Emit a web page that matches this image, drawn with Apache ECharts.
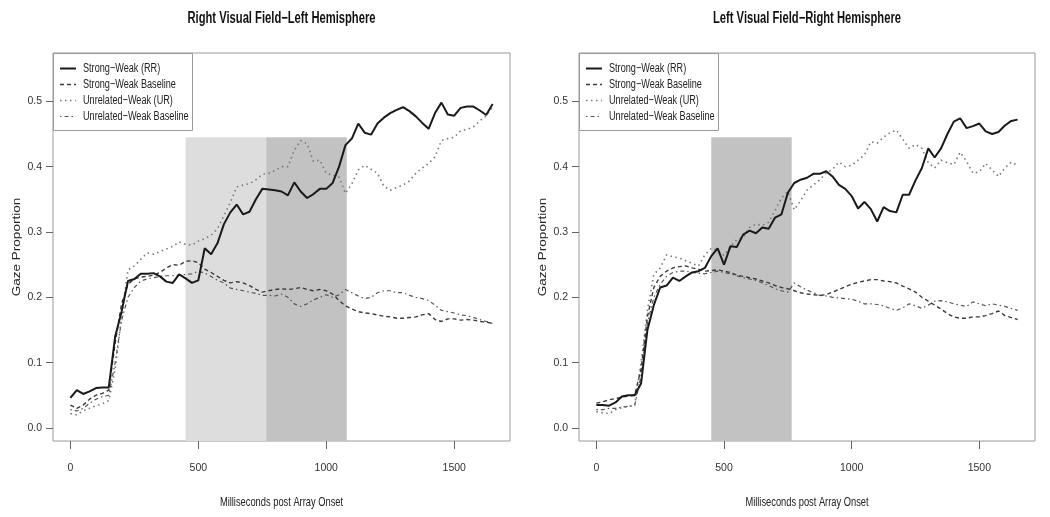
<!DOCTYPE html>
<html>
<head>
<meta charset="utf-8">
<script src="https://cdn.jsdelivr.net/npm/echarts@6/dist/echarts.min.js"></script>
<style>
html,body{margin:0;padding:0;background:#fff;}
#chart{width:1050px;height:517px;}
</style>
</head>
<body>
<div id="chart"></div>
<script>
// ---- data ----
const times = [0,25,50,75,100,125,150,175,200,225,250,275,300,325,350,375,400,425,450,475,500,525,550,575,600,625,650,675,700,725,750,775,800,825,850,875,900,925,950,975,1000,1025,1050,1075,1100,1125,1150,1175,1200,1225,1250,1275,1300,1325,1350,1375,1400,1425,1450,1475,1500,1525,1550,1575,1600,1625,1650];

const seriesNames = ["Strong\u2212Weak (RR)", "Strong\u2212Weak Baseline", "Unrelated\u2212Weak (UR)", "Unrelated\u2212Weak Baseline"];
const panelTitles = ["Right Visual Field\u2212Left Hemisphere", "Left Visual Field\u2212Right Hemisphere"];
const xTicks = [0, 500, 1000, 1500];
const yTicks = [0, 0.1, 0.2, 0.3, 0.4, 0.5];
const xAxisTitle = "Milliseconds post Array Onset";
const yAxisTitle = "Gaze Proportion";

// Right visual field - left hemisphere
const leftRR = [0.046,0.058,0.052,0.056,0.061,0.062,0.062,0.14,0.178,0.225,0.228,0.236,0.236,0.237,0.232,0.224,0.222,0.235,0.229,0.222,0.226,0.275,0.266,0.283,0.312,0.33,0.342,0.327,0.331,0.35,0.366,0.365,0.364,0.362,0.356,0.376,0.362,0.352,0.358,0.366,0.366,0.375,0.40,0.433,0.443,0.466,0.452,0.449,0.466,0.475,0.482,0.487,0.491,0.485,0.477,0.467,0.458,0.482,0.498,0.48,0.478,0.49,0.492,0.492,0.486,0.479,0.496];
const leftSWB = [0.035,0.03,0.035,0.044,0.05,0.053,0.058,0.13,0.19,0.22,0.228,0.231,0.232,0.234,0.238,0.245,0.25,0.249,0.255,0.256,0.253,0.243,0.238,0.232,0.226,0.222,0.224,0.222,0.218,0.212,0.208,0.21,0.212,0.213,0.212,0.213,0.215,0.212,0.21,0.212,0.21,0.205,0.195,0.187,0.182,0.178,0.176,0.175,0.173,0.171,0.17,0.168,0.168,0.169,0.17,0.173,0.175,0.166,0.163,0.167,0.167,0.165,0.166,0.165,0.163,0.162,0.16];
const leftUR = [0.022,0.02,0.026,0.03,0.034,0.037,0.042,0.09,0.17,0.242,0.248,0.258,0.268,0.266,0.27,0.274,0.278,0.285,0.281,0.28,0.286,0.29,0.295,0.305,0.325,0.345,0.369,0.372,0.374,0.38,0.388,0.39,0.394,0.4,0.4,0.425,0.44,0.435,0.408,0.41,0.39,0.387,0.384,0.359,0.374,0.395,0.402,0.396,0.39,0.37,0.364,0.368,0.372,0.378,0.39,0.398,0.405,0.415,0.44,0.443,0.445,0.455,0.457,0.461,0.47,0.478,0.492];
const leftUWB = [0.028,0.026,0.03,0.038,0.044,0.048,0.05,0.1,0.165,0.2,0.215,0.225,0.228,0.23,0.232,0.233,0.233,0.234,0.235,0.236,0.24,0.237,0.232,0.226,0.222,0.214,0.212,0.21,0.208,0.206,0.203,0.203,0.202,0.205,0.2,0.19,0.186,0.19,0.196,0.2,0.204,0.2,0.204,0.212,0.207,0.202,0.198,0.2,0.207,0.21,0.21,0.207,0.207,0.203,0.2,0.198,0.195,0.188,0.18,0.178,0.176,0.173,0.172,0.169,0.166,0.163,0.16];

// Left visual field - right hemisphere
const rightRR = [0.035,0.035,0.034,0.039,0.048,0.05,0.05,0.068,0.15,0.188,0.215,0.218,0.23,0.225,0.232,0.238,0.24,0.245,0.263,0.275,0.25,0.278,0.277,0.296,0.302,0.298,0.307,0.305,0.322,0.327,0.36,0.375,0.38,0.383,0.389,0.389,0.393,0.385,0.372,0.366,0.355,0.336,0.346,0.335,0.316,0.338,0.332,0.33,0.357,0.357,0.379,0.398,0.428,0.414,0.428,0.45,0.469,0.474,0.459,0.462,0.466,0.454,0.45,0.453,0.463,0.47,0.472];
const rightSWB = [0.038,0.04,0.043,0.045,0.047,0.049,0.05,0.09,0.17,0.215,0.232,0.24,0.245,0.247,0.248,0.245,0.243,0.24,0.241,0.242,0.24,0.238,0.234,0.232,0.23,0.228,0.225,0.222,0.218,0.215,0.213,0.21,0.207,0.205,0.204,0.203,0.204,0.208,0.212,0.216,0.22,0.223,0.225,0.227,0.227,0.225,0.224,0.222,0.217,0.213,0.208,0.2,0.194,0.188,0.182,0.175,0.17,0.168,0.168,0.17,0.17,0.172,0.175,0.179,0.172,0.169,0.166];
const rightUR = [0.025,0.023,0.022,0.028,0.031,0.033,0.035,0.1,0.18,0.235,0.245,0.265,0.262,0.26,0.256,0.252,0.248,0.265,0.275,0.272,0.264,0.278,0.288,0.292,0.307,0.312,0.31,0.315,0.333,0.352,0.362,0.334,0.348,0.364,0.372,0.38,0.39,0.396,0.407,0.4,0.402,0.41,0.418,0.438,0.436,0.445,0.452,0.456,0.442,0.428,0.434,0.428,0.406,0.398,0.41,0.406,0.403,0.422,0.408,0.39,0.392,0.405,0.395,0.385,0.398,0.407,0.402];
const rightUWB = [0.028,0.028,0.03,0.03,0.032,0.033,0.034,0.08,0.16,0.2,0.22,0.232,0.238,0.24,0.24,0.238,0.237,0.236,0.238,0.24,0.238,0.236,0.233,0.23,0.228,0.226,0.222,0.218,0.213,0.21,0.208,0.222,0.216,0.211,0.207,0.203,0.202,0.2,0.199,0.198,0.197,0.194,0.19,0.19,0.189,0.187,0.183,0.18,0.184,0.19,0.187,0.183,0.188,0.194,0.195,0.193,0.19,0.188,0.186,0.193,0.19,0.187,0.19,0.188,0.186,0.183,0.18];

// shaded analysis windows [start ms, end ms, top value]
const leftWindows = [[450, 765, 0.445], [765, 1080, 0.445]];
const rightWindows = [[450, 765, 0.445]];

// ---- chart ----
const FONT = "'Liberation Sans',Arial,Helvetica,sans-serif";
const X_MIN = -68, X_MAX = 1718, Y_MIN = -0.02, Y_MAX = 0.574;
const grids = [
  {left: 53, top: 53, width: 457, height: 388},
  {left: 579, top: 53, width: 456, height: 388}
];
const panels = [
  {vals: [leftRR, leftSWB, leftUR, leftUWB], windows: leftWindows, shades: ['#dddddd', '#c2c2c2']},
  {vals: [rightRR, rightSWB, rightUR, rightUWB], windows: rightWindows, shades: ['#c2c2c2']}
];
const lineStyles = [
  {color: '#1a1a1a', width: 2, type: 'solid'},
  {color: '#3a3a3a', width: 1.4, type: [4, 3]},
  {color: '#777777', width: 1.6, type: [1.5, 3.5]},
  {color: '#555555', width: 1.2, type: [1.5, 3, 4, 3]}
];

const xAxes = [], yAxes = [], series = [], graphics = [];
grids.forEach((g, gi) => {
  xAxes.push({
    type: 'value', gridIndex: gi, min: X_MIN, max: X_MAX,
    axisLine: {show: false, onZero: false},
    splitLine: {show: false},
    axisTick: {show: true, length: 8, customValues: xTicks, lineStyle: {color: '#666'}},
    axisLabel: {customValues: xTicks, margin: 22, fontFamily: FONT, fontSize: 10.5, color: '#333',
      formatter: v => String(v)}
  });
  yAxes.push({
    type: 'value', gridIndex: gi, min: Y_MIN, max: Y_MAX,
    axisLine: {show: false, onZero: false},
    splitLine: {show: false},
    axisTick: {show: true, length: 7, customValues: yTicks, lineStyle: {color: '#666'}},
    axisLabel: {customValues: yTicks, margin: 11, fontFamily: FONT, fontSize: 10.5, color: '#333',
      formatter: v => v.toFixed(1)}
  });
  const p = panels[gi];
  // shading holder
  series.push({
    type: 'line', xAxisIndex: gi, yAxisIndex: gi, data: [], silent: true, z: 1,
    markArea: {
      silent: true,
      data: p.windows.map((w, wi) => [
        {xAxis: w[0], yAxis: Y_MIN, itemStyle: {color: p.shades[wi], opacity: 1}},
        {xAxis: w[1], yAxis: w[2]}
      ])
    }
  });
  seriesNames.forEach((name, si) => {
    series.push({
      name: name, type: 'line', xAxisIndex: gi, yAxisIndex: gi,
      data: times.map((t, i) => [t, p.vals[si][i]]),
      symbol: 'none', showSymbol: false, z: 3 + (3 - si),
      lineStyle: Object.assign({}, lineStyles[si]),
      itemStyle: {color: lineStyles[si].color},
      emphasis: {disabled: true}
    });
  });
  const cx = g.left + g.width / 2;
  // panel title
  graphics.push({
    type: 'text', x: cx, y: 19, scaleX: 0.70, z: 100,
    style: {text: panelTitles[gi], fontFamily: FONT, fontWeight: 'bold', fontSize: 16, fill: '#111',
      textAlign: 'center', textVerticalAlign: 'middle'}
  });
  // axis titles
  graphics.push({
    type: 'text', x: cx, y: 502, scaleX: 0.69, z: 100,
    style: {text: xAxisTitle, fontFamily: FONT, fontSize: 13.5, fill: '#222',
      textAlign: 'center', textVerticalAlign: 'middle'}
  });
  graphics.push({
    type: 'text', x: g.left - 36, y: g.top + g.height / 2, rotation: Math.PI / 2, scaleY: 0.8, z: 100,
    style: {text: yAxisTitle, fontFamily: FONT, fontSize: 13.5, fill: '#222',
      textAlign: 'center', textVerticalAlign: 'middle'}
  });
  // legend box
  const lx = g.left, ly = g.top;
  const legendChildren = [{
    type: 'rect', shape: {x: lx + 0.5, y: ly + 0.5, width: 139, height: 77},
    style: {fill: '#fff', stroke: '#9a9a9a', lineWidth: 1}
  }];
  seriesNames.forEach((name, si) => {
    const ry = ly + 15.5 + 16 * si;
    const ls = lineStyles[si];
    legendChildren.push({
      type: 'line', shape: {x1: lx + 7, y1: ry, x2: lx + 23, y2: ry},
      style: {stroke: ls.color, lineWidth: ls.width, lineDash: ls.type === 'solid' ? null : ls.type}
    });
    legendChildren.push({
      type: 'text', x: lx + 30, y: ry, scaleX: 0.73,
      style: {text: name, fontFamily: FONT, fontSize: 12.5, fill: '#222', textAlign: 'left', textVerticalAlign: 'middle'}
    });
  });
  graphics.push({type: 'group', z: 50, children: legendChildren});
});

const chart = echarts.init(document.getElementById('chart'), null, {renderer: 'canvas'});
chart.setOption({
  animation: false,
  backgroundColor: '#ffffff',
  grid: grids.map(g => Object.assign({show: true, borderColor: '#9a9a9a', borderWidth: 1, backgroundColor: 'transparent'}, g)),
  xAxis: xAxes,
  yAxis: yAxes,
  graphic: graphics,
  series: series
});
</script>
</body>
</html>
